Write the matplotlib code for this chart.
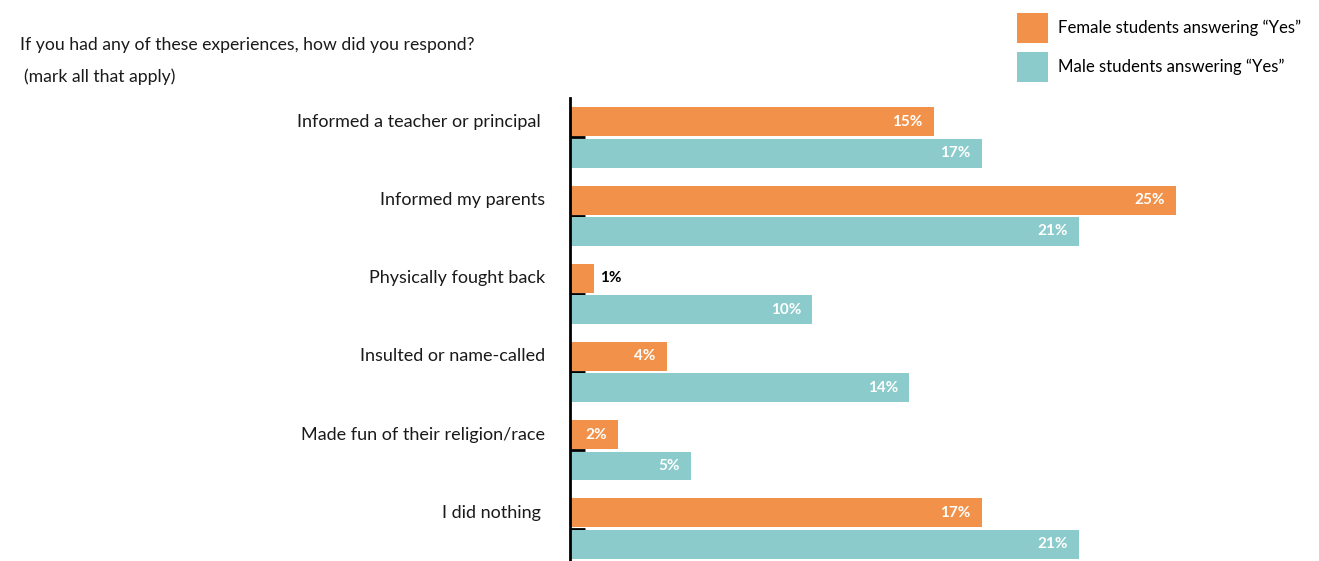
import matplotlib.pyplot as plt
import numpy as np

plt.rcParams['font.family'] = ['Lato', 'DejaVu Sans']

categories = ['Informed a teacher or principal ', 'Informed my parents', 'Physically fought back',
              'Insulted or name-called', 'Made fun of their religion/race', 'I did nothing ']
female = [15, 25, 1, 4, 2, 17]
male = [17, 21, 10, 14, 5, 21]
series_names = ['Female students answering \u201cYes\u201d', 'Male students answering \u201cYes\u201d']

orange = '#F2924A'
teal = '#8BCBCB'

fig = plt.figure(figsize=(13.19, 5.61), dpi=100)
ax = fig.add_axes([570 / 1319, 0, 727 / 1319, 463 / 561])

y = np.arange(len(categories))
h = 0.37
off = 0.2
fb = ax.barh(y - off, female, height=h, color=orange, label=series_names[0], zorder=2)
mb = ax.barh(y + off, male, height=h, color=teal, label=series_names[1], zorder=2)

ax.set_xlim(0, 30)
ax.set_ylim(5.415, -0.505)

for spine in ['top', 'right', 'bottom']:
    ax.spines[spine].set_visible(False)
ax.spines['left'].set_linewidth(2)
ax.spines['left'].set_color('black')
ax.spines['left'].set_zorder(3)
ax.set_xticks([])
ax.set_yticks(y)
ax.set_yticklabels([])
ax.tick_params(axis='y', direction='in', length=11, width=2, color='black')

for bars, vals in [(fb, female), (mb, male)]:
    for b, v in zip(bars, vals):
        cy = b.get_y() + b.get_height() / 2
        if v >= 2:
            ax.annotate(f'{v}%', (v, cy), xytext=(-8, 0), textcoords='offset points',
                        ha='right', va='center', color='white', fontsize=11, fontweight='bold')
        else:
            ax.annotate(f'{v}%', (v, cy), xytext=(4, 0), textcoords='offset points',
                        ha='left', va='center', color='black', fontsize=11, fontweight='bold')

for i, c in enumerate(categories):
    ax.annotate(c, (0, i - off), xytext=(-18, 0), textcoords='offset points',
                ha='right', va='center', fontsize=13, color='#1a1a1a')

fig.text(20 / 1319, 1 - 45 / 561, 'If you had any of these experiences, how did you respond?',
         ha='left', va='center', fontsize=12.7, color='#1a1a1a')
fig.text(24 / 1319, 1 - 77 / 561, '(mark all that apply)',
         ha='left', va='center', fontsize=12.7, color='#1a1a1a')

fig.legend(handles=[fb, mb], loc='upper left', bbox_to_anchor=(1012 / 1319, 1 - 8 / 561),
           frameon=False, fontsize=12.1, handlelength=1.85, handleheight=2.4,
           handletextpad=0.6, labelspacing=0.5, borderaxespad=0, borderpad=0.3)

fig.savefig('out.png', dpi=100)
